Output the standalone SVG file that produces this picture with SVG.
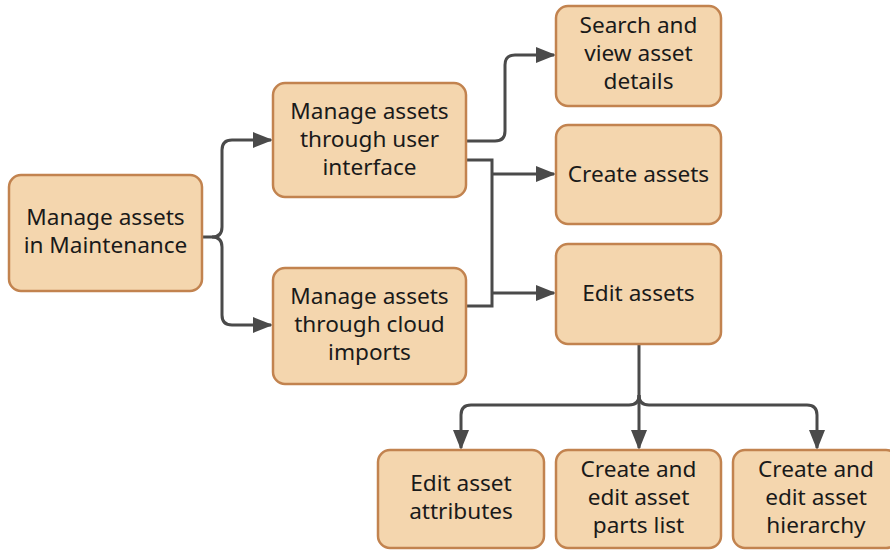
<svg xmlns="http://www.w3.org/2000/svg" width="890" height="550" viewBox="0 0 890 550">
<defs>
<style>
.box{fill:#F4D6AE;stroke:#C2834F;stroke-width:2.5}
.t{font-family:"Noto Sans","Open Sans",sans-serif;font-size:22.6px;fill:#1a1a1a;text-anchor:middle}
.c{fill:none;stroke:#4a4a4a;stroke-width:3}
</style>
<marker id="ah" markerWidth="20" markerHeight="16" refX="18" refY="8" orient="auto" markerUnits="userSpaceOnUse">
<path d="M0,0 L20,8 L0,16 Z" fill="#4a4a4a"/>
</marker>
</defs>
<rect width="890" height="550" fill="#ffffff"/>
<g id="connectors">
<path class="c" d="M202,237 H212 Q222,237 222,227 V150 Q222,140 232,140 H271" marker-end="url(#ah)"/>
<path class="c" d="M212,237 Q222,237 222,247 V315 Q222,325 232,325 H271" marker-end="url(#ah)"/>
<path class="c" d="M466,141 H495 Q505,141 505,131 V65 Q505,55 515,55 H554" marker-end="url(#ah)"/>
<path class="c" d="M466,160 H492 V306 H466"/>
<path class="c" d="M492,174 H554" marker-end="url(#ah)"/>
<path class="c" d="M492,293 H554" marker-end="url(#ah)"/>
<path class="c" d="M639,344 V395 Q639,405 629,405 H471 Q461,405 461,415 V448" marker-end="url(#ah)"/>
<path class="c" d="M639,395 Q639,405 649,405 H807 Q817,405 817,415 V448" marker-end="url(#ah)"/>
<path class="c" d="M639,395 V448" marker-end="url(#ah)"/>
</g>
<g id="n1"><rect class="box" x="9" y="175" width="193" height="116" rx="12"/>
<text class="t" x="105.5" y="225">Manage assets</text><text class="t" x="105.5" y="253">in Maintenance</text></g>
<g id="n2"><rect class="box" x="273" y="83" width="193" height="114" rx="12"/>
<text class="t" x="369.5" y="119">Manage assets</text><text class="t" x="369.5" y="147">through user</text><text class="t" x="369.5" y="175">interface</text></g>
<g id="n3"><rect class="box" x="273" y="268" width="193" height="116" rx="12"/>
<text class="t" x="369.5" y="304">Manage assets</text><text class="t" x="369.5" y="332">through cloud</text><text class="t" x="369.5" y="360">imports</text></g>
<g id="n4"><rect class="box" x="556" y="6" width="165" height="100" rx="12"/>
<text class="t" x="638.5" y="33">Search and</text><text class="t" x="638.5" y="61">view asset</text><text class="t" x="638.5" y="89">details</text></g>
<g id="n5"><rect class="box" x="556" y="125" width="165" height="99" rx="12"/>
<text class="t" x="638.5" y="182">Create assets</text></g>
<g id="n6"><rect class="box" x="556" y="244" width="165" height="100" rx="12"/>
<text class="t" x="638.5" y="301">Edit assets</text></g>
<g id="n7"><rect class="box" x="378" y="450" width="166" height="98" rx="12"/>
<text class="t" x="461" y="491">Edit asset</text><text class="t" x="461" y="519">attributes</text></g>
<g id="n8"><rect class="box" x="556" y="450" width="165" height="98" rx="12"/>
<text class="t" x="638.5" y="477">Create and</text><text class="t" x="638.5" y="505">edit asset</text><text class="t" x="638.5" y="533">parts list</text></g>
<g id="n9"><rect class="box" x="733" y="450" width="165" height="98" rx="12"/>
<text class="t" x="816" y="477">Create and</text><text class="t" x="816" y="505">edit asset</text><text class="t" x="816" y="533">hierarchy</text></g>
</svg>
